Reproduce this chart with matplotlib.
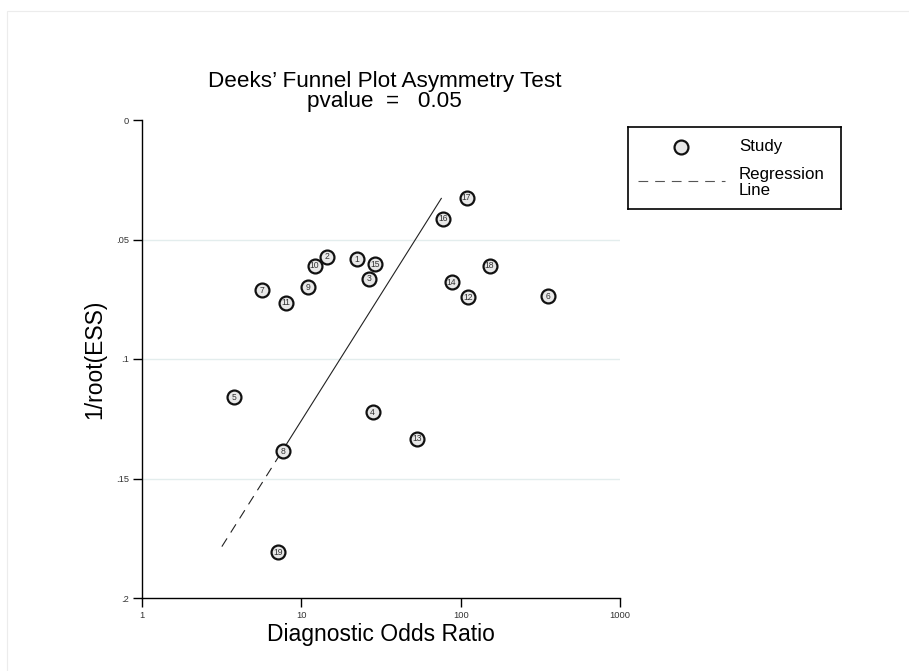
import matplotlib
matplotlib.use("Agg")
from matplotlib import pyplot as plt
from matplotlib.patches import Rectangle
from matplotlib.lines import Line2D

plt.rcParams['font.family'] = ['Liberation Sans', 'DejaVu Sans']
plt.rcParams['lines.scale_dashes'] = False

# study id, diagnostic odds ratio, 1/sqrt(ESS)
study = [1, 2, 3, 4, 5, 6, 7, 8, 9, 10, 11, 12, 13, 14, 15, 16, 17, 18, 19]
dor = [22.4, 14.4, 26.5, 28.0, 3.77, 354, 5.66, 7.67, 11.0, 12.1,
       7.97, 111, 53.1, 87.8, 29.1, 77.4, 109, 152, 7.14]
inv_ess = [0.0582, 0.0572, 0.0664, 0.1222, 0.1159, 0.0738, 0.0713, 0.1386, 0.0699, 0.0610,
           0.0764, 0.0741, 0.1333, 0.0678, 0.0603, 0.0413, 0.0325, 0.0610, 0.1808]

# regression line: dashed part (extrapolated) then solid part
reg_x = [3.17, 7.5, 75.6]
reg_y = [0.1785, 0.139, 0.0328]

xticks = [1, 10, 100, 1000]
xticklabels = ["1", "10", "100", "1000"]
yticks = [0, 0.05, 0.1, 0.15, 0.2]
yticklabels = ["0", ".05", ".1", ".15", ".2"]

W, H = 909, 671
fig = plt.figure(figsize=(W / 100, H / 100), dpi=100)

# faint frame around the graph region
fig.patches.append(Rectangle((7 / W, -0.1), 1.2, 1 - 11 / H + 0.1, transform=fig.transFigure,
                             fill=False, edgecolor="#ececec", linewidth=0.8))

ax = fig.add_axes([142 / W, 1 - 598 / H, 478 / W, 478 / H])
ax.set_xscale("log")
ax.set_xlim(1, 1000)
ax.set_ylim(0.2, 0)

for g in yticks[1:-1]:
    ax.axhline(g, color="#e3eded", linewidth=1.0, zorder=0)

ax.plot(reg_x[:2], reg_y[:2], color="#222222", linewidth=0.8, dashes=(7, 5), zorder=2)
ax.plot(reg_x[1:], reg_y[1:], color="#222222", linewidth=0.8, zorder=2)

ax.scatter(dor, inv_ess, s=100, facecolor="#e8e8e8", edgecolor="#111111", linewidth=1.6, zorder=3)
for s, x, y in zip(study, dor, inv_ess):
    ax.text(x, y, str(s), fontsize=6.2, color="#333333", ha="center", va="center", zorder=4)

ax.spines["top"].set_visible(False)
ax.spines["right"].set_visible(False)
ax.spines["left"].set_linewidth(1.0)
ax.spines["bottom"].set_linewidth(1.0)

ax.set_xticks(xticks)
ax.set_xticklabels(xticklabels)
ax.xaxis.set_minor_locator(matplotlib.ticker.NullLocator())
ax.set_yticks(yticks)
ax.set_yticklabels(yticklabels)
ax.tick_params(length=6.3, width=1.0, labelsize=6.7, labelcolor="#333333", pad=3)

ax.set_xlabel("Diagnostic Odds Ratio", fontsize=16.5, va="center")
ax.xaxis.set_label_coords(0.5, -37 / 478)
ax.set_ylabel("1/root(ESS)", fontsize=16.5, va="center")
ax.yaxis.set_label_coords(-47 / 478, 0.5)

ax.set_title("Deeks\u2019 Funnel Plot Asymmetry Test\npvalue  =   0.05", fontsize=16.2,
             x=0.508, y=1 + 20.5 / 478, va="center", linespacing=0.95)

# legend box
lax = fig.add_axes([628 / W, 1 - 209 / H, 213 / W, 82 / H])
lax.set_xlim(628, 841)
lax.set_ylim(209, 127)
lax.set_xticks([])
lax.set_yticks([])
for sp in lax.spines.values():
    sp.set_linewidth(1.2)
lax.add_line(Line2D([681], [147], marker="o", markersize=10, markerfacecolor="#e8e8e8",
                    markeredgecolor="#111111", markeredgewidth=1.6, linestyle="none"))
lax.add_line(Line2D([638, 725], [181, 181], color="#555555", linewidth=0.8, dashes=(7, 5)))
lax.text(739, 147, "Study", fontsize=12.2, va="center", ha="left")
lax.text(739, 182.5, "Regression\nLine", fontsize=12.2, va="center", ha="left", linespacing=1.05)

fig.savefig("out.png", dpi=100, facecolor="white")
